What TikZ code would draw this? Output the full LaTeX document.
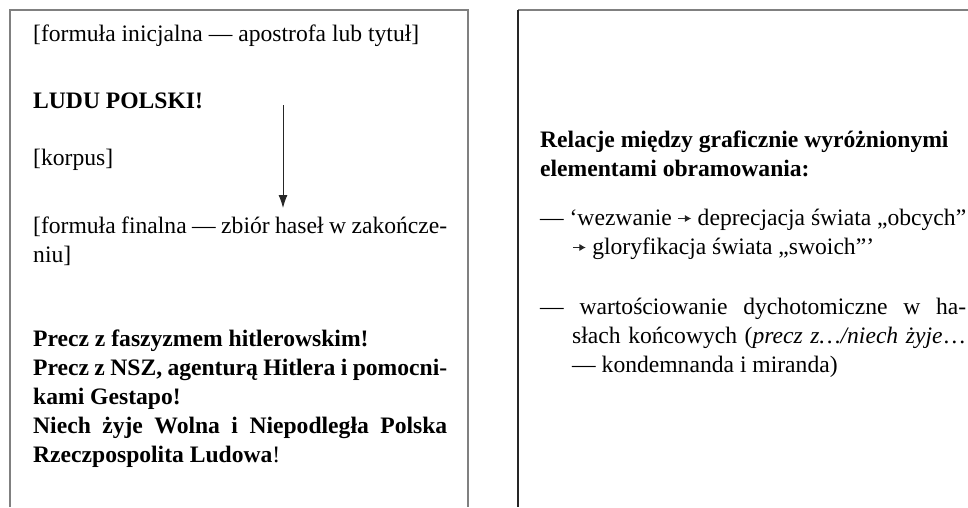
\documentclass[tikz,border=0pt]{standalone}
\usepackage{fontspec}
\setmainfont{Liberation Serif}
\usetikzlibrary{arrows.meta}
\tikzset{
	txt/.style={anchor=base west, inner sep=0pt, font=\fontsize{23.6}{29}\selectfont},
	txtbold/.style={anchor=base west, inner sep=0pt, font=\fontsize{23.6}{29}\selectfont\bfseries},
	para/.style={align=justify, text width=#1},
	frame/.style={draw=black!50, line width=1.6pt},
}
\newcommand{\strz}{\tikz[baseline=0pt]\draw[-{Latex[length=6.5pt,width=7.5pt]}, line width=1.2pt, black!85] (0pt,6.5pt) -- (13pt,6.5pt);}
\begin{document}
\begin{tikzpicture}[x=1pt, y=-1pt]
	\useasboundingbox (0,0) rectangle (968,507);

	% ramki
	\draw[frame] (10,507) -- (10,10) -- (468,10) -- (468,507);
	\draw[frame] (518,10) -- (968,10);
	\draw[line width=1.2pt, black!85] (518,10) -- (518,507);

	% lewa strona
	\node[txt] (inicjalna) at (33,41) {[formuła inicjalna — apostrofa lub tytuł]};
	\node[txtbold] (ludu) at (33,108) {LUDU POLSKI!};
	\node[txt] (korpus) at (33,165) {[korpus]};
	\node[txt, para=414pt] (finalna) at (33,233) {[formuła finalna — zbiór haseł w zakończe-\\niu]};
	\node[txtbold, para=414pt] (hasla) at (33,346) {Precz z faszyzmem hitlerowskim!\\Precz z NSZ, agenturą Hitlera i pomocni-\linebreak kami Gestapo!\\Niech żyje Wolna i Niepodległa Polska\linebreak Rzeczpospolita Ludowa\textmd{!}};

	\coordinate (strzalka-start) at (283,105);
	\coordinate (strzalka-koniec) at (283,208);
	\draw[-{Latex[length=13pt,width=9pt]}, black!85, line width=0.9pt] (strzalka-start) -- (strzalka-koniec);

	% prawa strona
	\node[txtbold, para=426pt] (relacje) at (540,147) {Relacje między graficznie wyróżnionymi\\elementami obramowania:};
	\node[txt, para=426pt] (wezwanie) at (540,225) {\hangindent=32pt\hangafter=1 — ‘wezwanie \strz{} deprecjacja świata „obcych”\linebreak \strz{} gloryfikacja świata „swoich”’\par};
	\node[txt, para=426pt] (wartosciowanie) at (540,314) {\hangindent=32pt\hangafter=1 — wartościowanie dychotomiczne w ha-\linebreak słach końcowych (\textit{precz z…/niech żyje}…\linebreak — kondemnanda i miranda)\par};
\end{tikzpicture}
\end{document}
